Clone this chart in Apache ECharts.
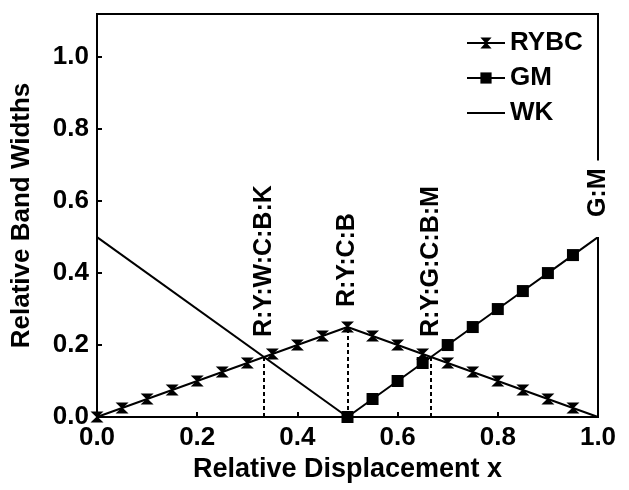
<!DOCTYPE html>
<html>
<head>
<meta charset="utf-8">
<script src="https://cdn.jsdelivr.net/npm/echarts@6/dist/echarts.min.js"></script>
<style>html,body{margin:0;padding:0;background:#fff;}#c{width:629px;height:490px;}</style>
</head>
<body>
<div id="c"></div>
<script>
// ---- data ----
const rybcX = [0, 0.05, 0.1, 0.15, 0.2, 0.25, 0.3, 0.35, 0.4, 0.45, 0.5, 0.55, 0.6, 0.65, 0.7, 0.75, 0.8, 0.85, 0.9, 0.95, 1.0];
const rybcY = [0, 0.025, 0.05, 0.075, 0.1, 0.125, 0.15, 0.175, 0.2, 0.225, 0.25, 0.225, 0.2, 0.175, 0.15, 0.125, 0.1, 0.075, 0.05, 0.025, 0];
const gmX = [0.5, 0.55, 0.6, 0.65, 0.7, 0.75, 0.8, 0.85, 0.9, 0.95, 1.0];
const gmY = [0, 0.05, 0.1, 0.15, 0.2, 0.25, 0.3, 0.35, 0.4, 0.45, 0.5];
const wkX = [0, 0.5];
const wkY = [0.5, 0];
const transX = [1/3, 0.5, 2/3];
const transY = [1/6, 0.25, 1/6];
const tagX = [1/3, 0.5, 2/3, 1.0];
const tagY = [1/6, 0.25, 1/6, 0.5];
const tagText = ['R:Y:W:C:B:K', 'R:Y:C:B', 'R:Y:G:C:B:M', 'G:M'];
const seriesNames = ['RYBC', 'GM', 'WK'];

const FONT = 'Liberation Sans, Arial, sans-serif';
const hourglass = 'path://M0,0L10,0L5.6,5L10,10L0,10L4.4,5Z';

function pairs(xs, ys, noSymbolLast) {
  return xs.map((x, i) => {
    const d = { value: [x, ys[i]] };
    if (noSymbolLast && i === xs.length - 1) d.symbol = 'none';
    return d;
  });
}

const tagData = tagX.map((x, i) => {
  const d = { value: [x, tagY[i]], name: tagText[i] };
  if (tagText[i] === 'G:M') {
    d.label = { backgroundColor: '#fff', padding: [2, 8, 2, 20], distance: 0 };
  }
  return d;
});

const chart = echarts.init(document.getElementById('c'), null, { renderer: 'canvas' });
chart.setOption({
  animation: false,
  backgroundColor: '#fff',
  grid: { left: 97, right: 31, top: 14, bottom: 73, show: true, borderColor: '#000', borderWidth: 2, backgroundColor: 'transparent' },
  legend: {
    data: [
      { name: 'RYBC' },
      { name: 'GM' },
      { name: 'WK', icon: 'path://M0,0L38,0L38,2L0,2Z' }
    ],
    orient: 'vertical',
    left: 466, top: 30,
    padding: 0,
    itemWidth: 38, itemHeight: 14, itemGap: 9,
    textStyle: { fontFamily: FONT, fontWeight: 'bold', fontSize: 26, color: '#000' }
  },
  xAxis: {
    type: 'value', min: 0, max: 1, interval: 0.2,
    name: 'Relative Displacement x', nameLocation: 'middle', nameGap: 37,
    nameTextStyle: { fontFamily: FONT, fontWeight: 'bold', fontSize: 27, color: '#000' },
    axisLine: { lineStyle: { color: '#000', width: 2 } },
    axisTick: { inside: true, length: 5, lineStyle: { color: '#000', width: 2 } },
    axisLabel: { margin: 8, fontFamily: FONT, fontWeight: 'bold', fontSize: 26, color: '#000', formatter: v => v.toFixed(1) },
    splitLine: { show: false }
  },
  yAxis: {
    type: 'value', min: 0, max: 1.12, interval: 0.2,
    name: 'Relative Band Widths', nameLocation: 'middle', nameGap: 62,
    nameTextStyle: { fontFamily: FONT, fontWeight: 'bold', fontSize: 26, color: '#000' },
    axisLine: { show: true, lineStyle: { color: '#000', width: 2 } },
    axisTick: { inside: true, length: 5, lineStyle: { color: '#000', width: 2 } },
    axisLabel: { margin: 8, showMaxLabel: false, fontFamily: FONT, fontWeight: 'bold', fontSize: 26, color: '#000', formatter: v => v.toFixed(1) },
    splitLine: { show: false }
  },
  series: [
    {
      name: 'WK', type: 'line', data: pairs(wkX, wkY, false),
      symbol: 'none', lineStyle: { color: '#000', width: 2 }, itemStyle: { color: '#000' }, z: 3
    },
    {
      name: 'RYBC', type: 'line', data: pairs(rybcX, rybcY, true),
      symbol: hourglass, symbolSize: [13, 11], showAllSymbol: true,
      lineStyle: { color: '#000', width: 2 }, itemStyle: { color: '#000' }, z: 4,
      markLine: {
        silent: true, symbol: 'none', animation: false,
        label: { show: false },
        lineStyle: { color: '#000', width: 2, type: [4, 3], opacity: 1 },
        emphasis: { disabled: true },
        data: transX.map((x, i) => [{ coord: [x, 0] }, { coord: [x, transY[i]] }])
      }
    },
    {
      name: 'GM', type: 'line', data: pairs(gmX, gmY, true),
      symbol: 'rect', symbolSize: 12, showAllSymbol: true,
      lineStyle: { color: '#000', width: 2 }, itemStyle: { color: '#000' }, z: 5
    },
    {
      name: 'tags', type: 'scatter', data: tagData,
      symbolSize: 0, itemStyle: { color: '#000', opacity: 1 }, z: 6, silent: true,
      emphasis: { disabled: true },
      label: {
        show: true, position: 'top', distance: 20, rotate: 90,
        align: 'left', verticalAlign: 'middle',
        formatter: p => p.name,
        fontFamily: FONT, fontWeight: 'bold', fontSize: 25, color: '#000',
        opacity: 1, textBorderWidth: 0
      }
    }
  ]
});
</script>
</body>
</html>
